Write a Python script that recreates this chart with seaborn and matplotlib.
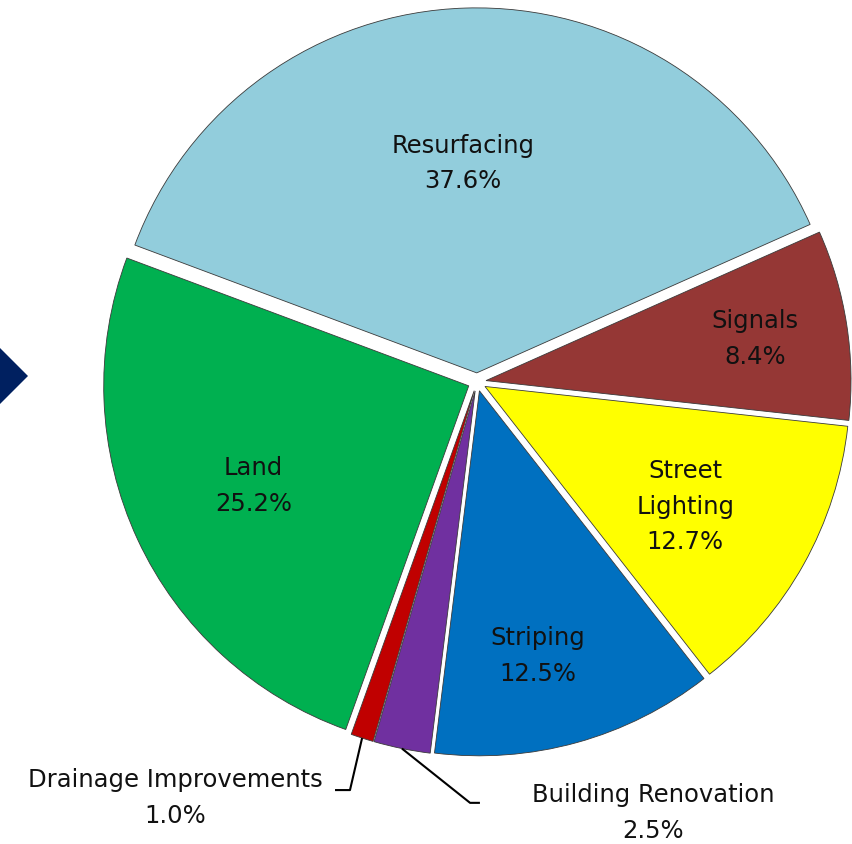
import numpy as np
import seaborn as sns
import matplotlib.pyplot as plt
from matplotlib.patches import Polygon

# data
categories = ["Resurfacing", "Signals", "Street\nLighting", "Striping",
              "Building Renovation", "Drainage Improvements", "Land"]
shares = [37.6, 8.4, 12.7, 12.5, 2.5, 1.0, 25.2]
colors = ["#92CDDC", "#953735", "#FFFF00", "#0070C0",
          "#7030A0", "#C00000", "#00B050"]

# (radius, angle nudge in degrees) for labels sitting inside their slice
inside_pos = {"Resurfacing": (0.575, 2.0), "Signals": (0.745, 0.0),
              "Street\nLighting": (0.64, -1.8), "Striping": (0.745, -3.0),
              "Land": (0.65, 0.0)}

sns.set_theme(style="white")
plt.rcParams["font.family"] = ["DejaVu Sans"]

fig = plt.figure(figsize=(8.52, 8.44), dpi=100)
ax = fig.add_axes([0, 0, 1, 1])

wedges, _ = ax.pie(
    shares,
    colors=colors,
    startangle=159.5,
    counterclock=False,
    explode=[0.025] * len(shares),
    wedgeprops=dict(edgecolor="#3a3a3a", linewidth=0.6),
)

# keep center at pixel (477, 382) with radius 365 px
ax.set_xlim(-477 / 365, (852 - 477) / 365)
ax.set_ylim(-(844 - 382) / 365, 382 / 365)
ax.set_aspect("auto")
ax.axis("off")

fs = 17.5
ls = 1.62
for w, name, val in zip(wedges, categories, shares):
    label = f"{name}\n{val:.1f}%"
    if name in inside_pos:
        r, nudge = inside_pos[name]
        mid = np.deg2rad((w.theta1 + w.theta2) / 2 + nudge)
        ax.text(r * np.cos(mid) + w.center[0], r * np.sin(mid) + w.center[1],
                label, ha="center", va="center", fontsize=fs,
                color="#111111", linespacing=ls)


# leader-line labels for the two thin slices
def leader(w, elbow, end, text_pos, text):
    mid = np.deg2rad((w.theta1 + w.theta2) / 2)
    x0 = 1.0 * np.cos(mid) + w.center[0]
    y0 = 1.0 * np.sin(mid) + w.center[1]
    ax.plot([x0, elbow[0], end[0]], [y0, elbow[1], end[1]],
            color="black", lw=1.5, solid_capstyle="butt")
    ax.text(text_pos[0], text_pos[1], text, ha="center", va="center",
            fontsize=fs, color="#111111", linespacing=ls)


leader(wedges[5], (-0.348, -1.118), (-0.389, -1.118), (-0.827, -1.14),
       f"{categories[5]}\n{shares[5]:.1f}%")
leader(wedges[4], (-0.019, -1.153), (0.008, -1.153), (0.482, -1.181),
       f"{categories[4]}\n{shares[4]:.1f}%")

# navy diamond marker on the left edge
fig.patches.append(Polygon(
    [(-28 / 852, 1 - 376 / 844), (0, 1 - 348 / 844),
     (28 / 852, 1 - 376 / 844), (0, 1 - 404 / 844)],
    closed=True, transform=fig.transFigure, facecolor="#002060",
    edgecolor="none"))

fig.savefig("out.png", dpi=100, facecolor="white")
plt.close(fig)
